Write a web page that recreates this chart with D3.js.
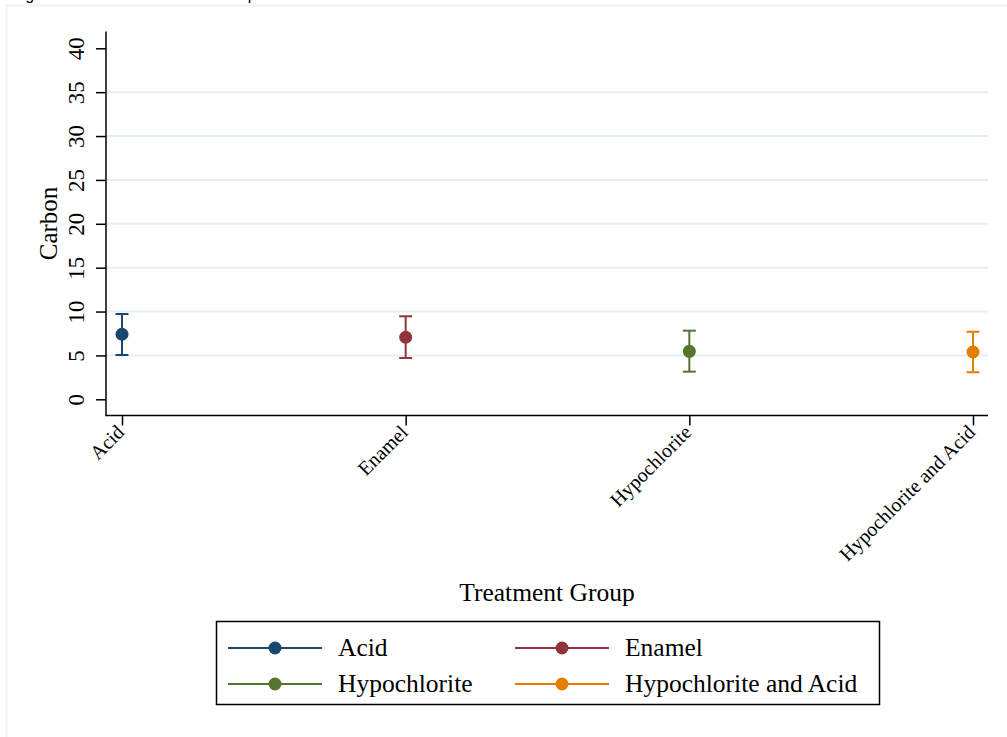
<!DOCTYPE html>
<html>
<head>
<meta charset="utf-8">
<script src="https://cdn.jsdelivr.net/npm/d3@7"></script>
<style>
  body { margin: 0; background: #fff; }
  svg { display: block; }
</style>
</head>
<body>
<div id="chart"></div>
<script>
// values
var groups = ["Acid", "Enamel", "Hypochlorite", "Hypochlorite and Acid"];
var means = [7.41, 7.07, 5.47, 5.39];
var lower = [5.05, 4.71, 3.15, 3.08];
var upper = [9.72, 9.46, 7.82, 7.70];
var colors = ["#1a476f", "#90353b", "#55752f", "#e37e00"];
var yTicks = [0, 5, 10, 15, 20, 25, 30, 35, 40];

var width = 1007, height = 737;
var serif = "'Liberation Serif', 'Times New Roman', serif";

var svg = d3.select("#chart")
    .append("svg")
    .attr("width", width)
    .attr("height", height);

// caption line, cut off at the top as in the picture
svg.append("text")
    .attr("x", 12)
    .attr("y", 0)
    .style("font-family", "'Liberation Sans', Arial, sans-serif")
    .style("font-size", "16px")
    .style("fill", "#000")
    .text("Figure 3: Carbon Content of Samples");

// faint graph region border
svg.append("rect")
    .attr("x", 6.5)
    .attr("y", 5.5)
    .attr("width", width + 10)
    .attr("height", height + 10)
    .style("fill", "none")
    .style("stroke", "#eaf0f5")
    .style("stroke-width", 1.5);

var plot = { left: 106, right: 988, top: 31.5, bottom: 415.5 };

var y = d3.scaleLinear()
    .domain([0, 40])
    .range([399.3, 48.3]);

var x = d3.scalePoint()
    .domain(groups)
    .range([122, 973]);

// grid lines (not at the ends)
svg.append("g")
    .selectAll("line")
    .data(yTicks.filter(function (d) { return d > 0 && d < 40; }))
    .enter().append("line")
    .attr("x1", plot.left)
    .attr("x2", plot.right)
    .attr("y1", function (d) { return y(d); })
    .attr("y2", function (d) { return y(d); })
    .style("stroke", "#e3eef1")
    .style("stroke-width", 2);

// y axis
var yAxis = svg.append("g")
    .attr("transform", "translate(" + plot.left + ",0)")
    .call(d3.axisLeft(y).tickValues(yTicks).tickSize(10).tickSizeOuter(0));
yAxis.select(".domain").remove();
yAxis.selectAll(".tick line").style("stroke", "#000").style("stroke-width", 1.5);
yAxis.selectAll(".tick text")
    .attr("transform", "rotate(-90)")
    .attr("x", 0)
    .attr("y", -22)
    .attr("dy", 0)
    .style("text-anchor", "middle")
    .style("font-family", serif)
    .style("font-size", "23px")
    .style("fill", "#000");
svg.append("line")
    .attr("x1", plot.left).attr("x2", plot.left)
    .attr("y1", plot.top).attr("y2", plot.bottom)
    .style("stroke", "#000").style("stroke-width", 1.5);

// x axis
var xAxis = svg.append("g")
    .attr("transform", "translate(0," + plot.bottom + ")")
    .call(d3.axisBottom(x).tickSize(10).tickSizeOuter(0));
xAxis.select(".domain").remove();
xAxis.selectAll(".tick line").style("stroke", "#000").style("stroke-width", 1.5);
xAxis.selectAll(".tick text")
    .attr("transform", "translate(-2,13) rotate(-45)")
    .attr("x", 0)
    .attr("y", 0)
    .attr("dy", "0.35em")
    .style("text-anchor", "end")
    .style("font-family", serif)
    .style("font-size", "20px")
    .style("fill", "#000");
svg.append("line")
    .attr("x1", plot.left - 0.75).attr("x2", plot.right)
    .attr("y1", plot.bottom).attr("y2", plot.bottom)
    .style("stroke", "#000").style("stroke-width", 1.5);

// axis titles
svg.append("text")
    .attr("transform", "translate(57," + ((plot.top + plot.bottom) / 2) + ") rotate(-90)")
    .style("text-anchor", "middle")
    .style("font-family", serif)
    .style("font-size", "25px")
    .text("Carbon");

svg.append("text")
    .attr("x", (plot.left + plot.right) / 2)
    .attr("y", 601)
    .style("text-anchor", "middle")
    .style("font-family", serif)
    .style("font-size", "25.5px")
    .text("Treatment Group");

// error bars and means
var pts = svg.append("g")
    .selectAll("g")
    .data(groups)
    .enter().append("g")
    .style("stroke", function (d, i) { return colors[i]; })
    .style("fill", function (d, i) { return colors[i]; });

pts.append("line")
    .attr("x1", function (d) { return x(d); })
    .attr("x2", function (d) { return x(d); })
    .attr("y1", function (d, i) { return y(lower[i]); })
    .attr("y2", function (d, i) { return y(upper[i]); })
    .style("stroke-width", 2);
pts.append("line")
    .attr("x1", function (d) { return x(d) - 6.5; })
    .attr("x2", function (d) { return x(d) + 6.5; })
    .attr("y1", function (d, i) { return y(upper[i]); })
    .attr("y2", function (d, i) { return y(upper[i]); })
    .style("stroke-width", 2);
pts.append("line")
    .attr("x1", function (d) { return x(d) - 6.5; })
    .attr("x2", function (d) { return x(d) + 6.5; })
    .attr("y1", function (d, i) { return y(lower[i]); })
    .attr("y2", function (d, i) { return y(lower[i]); })
    .style("stroke-width", 2);
pts.append("circle")
    .attr("cx", function (d) { return x(d); })
    .attr("cy", function (d, i) { return y(means[i]); })
    .attr("r", 6.5)
    .style("stroke", "none");

// legend
var legend = svg.append("g");
legend.append("rect")
    .attr("x", 216.5)
    .attr("y", 621.5)
    .attr("width", 663)
    .attr("height", 83)
    .style("fill", "#fff")
    .style("stroke", "#000")
    .style("stroke-width", 1.5);

var item = legend.selectAll(".item")
    .data(groups)
    .enter().append("g")
    .attr("class", "item")
    .attr("transform", function (d, i) {
        return "translate(" + (228 + (i % 2) * 287) + "," + (648 + Math.floor(i / 2) * 36) + ")";
    });
item.append("line")
    .attr("x1", 0).attr("x2", 94)
    .attr("y1", 0).attr("y2", 0)
    .style("stroke", function (d, i) { return colors[i]; })
    .style("stroke-width", 2);
item.append("circle")
    .attr("cx", 47).attr("cy", 0).attr("r", 6.5)
    .style("fill", function (d, i) { return colors[i]; });
item.append("text")
    .attr("x", 110)
    .attr("y", 0)
    .attr("dy", "0.33em")
    .style("font-family", serif)
    .style("font-size", "25.5px")
    .text(function (d) { return d; });
</script>
</body>
</html>
